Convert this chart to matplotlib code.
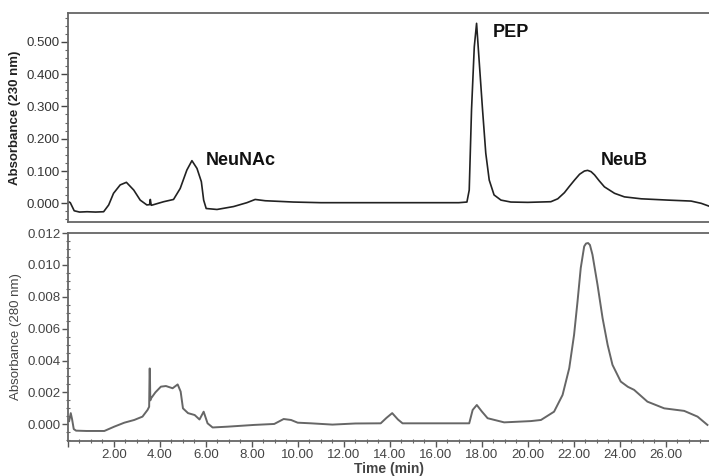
import matplotlib
matplotlib.use('Agg')
import matplotlib.pyplot as plt
from matplotlib.ticker import MultipleLocator, FormatStrFormatter

plt.rcParams['font.family'] = ['Liberation Sans', 'DejaVu Sans']

# 230 nm trace (time in min, absorbance)
t_230 = [0.05, 0.10, 0.27, 0.50, 0.83, 1.20, 1.55, 1.77, 1.98, 2.27, 2.54, 2.86,
         3.14, 3.43, 3.55, 3.58, 3.62, 3.68, 4.16, 4.59, 4.88, 5.17, 5.39, 5.61,
         5.80, 5.90, 6.01, 6.48, 7.20, 7.78, 8.14, 8.58, 9.20, 9.80, 11.0, 13.0,
         15.0, 17.0, 17.35, 17.45, 17.55, 17.67, 17.77, 17.88, 18.03, 18.17, 18.32,
         18.53, 18.83, 19.26, 20.0, 21.0, 21.3, 21.59, 21.8, 22.03, 22.25, 22.46,
         22.60, 22.75, 22.90, 23.10, 23.33, 23.77, 24.20, 24.93, 26.09, 27.10,
         27.54, 27.93]
abs_230 = [0.004, 0.002, -0.023, -0.027, -0.026, -0.027, -0.026, -0.005, 0.031,
           0.057, 0.065, 0.041, 0.010, -0.005, -0.004, 0.012, -0.006, -0.005,
           0.005, 0.012, 0.046, 0.103, 0.132, 0.108, 0.067, 0.010, -0.016, -0.019,
           -0.010, 0.002, 0.012, 0.008, 0.006, 0.004, 0.002, 0.002, 0.002, 0.002,
           0.004, 0.041, 0.289, 0.484, 0.557, 0.443, 0.289, 0.155, 0.072, 0.026,
           0.010, 0.004, 0.003, 0.005, 0.014, 0.033, 0.052, 0.072, 0.090, 0.100,
           0.102, 0.098, 0.088, 0.070, 0.051, 0.031, 0.020, 0.014, 0.010, 0.007,
           0.000, -0.010]

# 280 nm trace
t_280 = [0.05, 0.12, 0.18, 0.25, 0.35, 0.80, 1.58, 2.01, 2.45, 2.88, 3.24, 3.46,
         3.53, 3.55, 3.56, 3.58, 3.60, 3.80, 4.04, 4.26, 4.55, 4.77, 4.90, 5.00,
         5.22, 5.51, 5.72, 5.90, 6.07, 6.29, 6.94, 8.10, 8.97, 9.38, 9.70, 9.99,
         10.57, 11.5, 12.5, 13.6, 13.85, 14.1, 14.35, 14.55, 16.0, 17.45, 17.6,
         17.78, 18.0, 18.25, 18.97, 20.13, 20.57, 21.14, 21.51, 21.80, 22.01, 22.16,
         22.30, 22.45, 22.53, 22.62, 22.70, 22.81, 23.03, 23.25, 23.47, 23.68,
         24.04, 24.35, 24.62, 25.20, 25.93, 26.80, 27.38, 27.81]
abs_280 = [0.0002, 0.0007, 0.0003, -0.0003, -0.0004, -0.00042, -0.00042, -0.00015,
           0.0001, 0.00027, 0.00048, 0.0009, 0.0011, 0.0035, 0.0035, 0.0015, 0.0016,
           0.0020, 0.00236, 0.0024, 0.00226, 0.0025, 0.00205, 0.0010, 0.0007,
           0.00058, 0.0003, 0.00079, 0.00006, -0.0002, -0.00015, -0.00004, 0.00002,
           0.00033, 0.00027, 0.0001, 0.00006, -0.00002, 0.00005, 0.00006, 0.0004,
           0.0007, 0.0003, 0.00006, 0.00006, 0.00006, 0.0009, 0.00121, 0.0008,
           0.00038, 0.00012, 0.0002, 0.00027, 0.00079, 0.00184, 0.00352, 0.00561,
           0.0077, 0.0098, 0.01116, 0.01134, 0.01137, 0.01125, 0.01064, 0.00875,
           0.00666, 0.00498, 0.00373, 0.00268, 0.00235, 0.00216, 0.00142, 0.0010,
           0.00084, 0.00048, -0.00004]

peak_names = ['NeuNAc', 'PEP', 'NeuB']
peak_label_t = [6.0, 18.47, 23.17]
peak_label_y = [0.134, 0.528, 0.132]

fig = plt.figure(figsize=(7.09, 4.76), dpi=100)
ax1 = fig.add_axes([0.0959, 0.5342, 0.9048, 0.4384])
ax2 = fig.add_axes([0.0959, 0.0735, 0.9048, 0.4370])

spine_col = '#666666'
for ax in (ax1, ax2):
    ax.set_xlim(0, 27.9)
    for s in ax.spines.values():
        s.set_color(spine_col)
        s.set_linewidth(1.3)
    ax.spines['right'].set_visible(False)

# top panel: 230 nm
ax1.plot(t_230, abs_230, color='#222222', lw=1.2)
ax1.set_ylim(-0.0569, 0.5888)
ax1.yaxis.set_major_locator(MultipleLocator(0.1))
ax1.yaxis.set_minor_locator(MultipleLocator(0.025))
ax1.yaxis.set_major_formatter(FormatStrFormatter('%.3f'))
ax1.tick_params(axis='y', which='major', length=5, width=1, color='#444444',
                labelsize=9.5, labelcolor='#333333', pad=1)
ax1.tick_params(axis='y', which='minor', length=2, width=0.8, color='#666666')
ax1.tick_params(axis='x', which='both', bottom=False, labelbottom=False)
ax1.set_ylabel('Absorbance (230 nm)', fontsize=9.5, fontweight='bold',
               color='#222222', labelpad=4)
for name, tx, ty in zip(peak_names, peak_label_t, peak_label_y):
    ax1.text(tx, ty, name, fontsize=13, fontweight='bold', ha='left',
             va='center', color='#111111')

# bottom panel: 280 nm
ax2.plot(t_280, abs_280, color='#666666', lw=1.4)
ax2.set_ylim(-0.00105, 0.012)
ax2.yaxis.set_major_locator(MultipleLocator(0.002))
ax2.yaxis.set_minor_locator(MultipleLocator(0.0005))
ax2.yaxis.set_major_formatter(FormatStrFormatter('%.3f'))
ax2.xaxis.set_major_locator(MultipleLocator(2))
ax2.xaxis.set_minor_locator(MultipleLocator(0.5))
ax2.xaxis.set_major_formatter(
    plt.FuncFormatter(lambda v, p: '' if v == 0 else '%.2f' % v))
ax2.tick_params(which='major', length=4, width=1, color='#555555',
                labelsize=9.5, labelcolor='#444444', pad=1.5)
ax2.tick_params(which='minor', length=3, width=0.8, color='#666666',
                direction='inout')
ax2.set_ylabel('Absorbance (280 nm)', fontsize=9.5, color='#444444', labelpad=4)
ax2.set_xlabel('Time (min)', fontsize=10, fontweight='bold', color='#444444',
               labelpad=1)

fig.savefig('out.png', dpi=100)
